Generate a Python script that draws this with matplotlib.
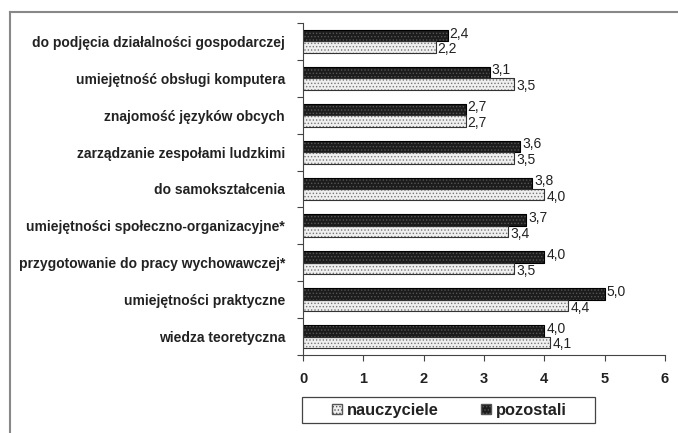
import matplotlib
matplotlib.use("Agg")
import matplotlib.pyplot as plt
import numpy as np
from matplotlib.lines import Line2D
from matplotlib.patches import Patch, Rectangle

plt.rcParams['font.family'] = ['Liberation Sans', 'DejaVu Sans']
plt.rcParams['hatch.linewidth'] = 0.6

categories = [
    "do podjęcia działalności gospodarczej",
    "umiejętność obsługi komputera",
    "znajomość języków obcych",
    "zarządzanie zespołami ludzkimi",
    "do samokształcenia",
    "umiejętności społeczno-organizacyjne*",
    "przygotowanie do pracy wychowawczej*",
    "umiejętności praktyczne",
    "wiedza teoretyczna",
]
nauczyciele = [2.2, 3.5, 2.7, 3.5, 4.0, 3.4, 3.5, 4.4, 4.1]
pozostali = [2.4, 3.1, 2.7, 3.6, 3.8, 3.7, 4.0, 5.0, 4.0]
xticks = [0, 1, 2, 3, 4, 5, 6]
series_names = ["nauczyciele", "pozostali"]

fig = plt.figure(figsize=(6.78, 4.33), dpi=100)
ax = fig.add_axes([303/678, 1-355/433, (665-303)/678, (355-23)/433])

n = len(categories)
y = np.arange(n)
h = 0.31
dark_col = '#1c1c1c'
light_col = '#efefef'

ax.barh(y - h/2, pozostali, height=h, color=dark_col, edgecolor='#555555',
        hatch='.....', linewidth=0.6)
ax.barh(y + h/2, nauczyciele, height=h, color=light_col, edgecolor='#777777',
        hatch='.....', linewidth=0.6)
for yy, v in zip(y, pozostali):
    ax.add_patch(Rectangle((0, yy - h), v, h, fill=False, edgecolor='black', linewidth=0.8))
for yy, v in zip(y, nauczyciele):
    ax.add_patch(Rectangle((0, yy), v, h, fill=False, edgecolor='#333333', linewidth=0.8))

for yy, v in zip(y, pozostali):
    ax.text(v + 0.03, yy - h/2 - 0.06, f"{v:.1f}".replace('.', ','), va='center', ha='left',
            fontsize=10, color='#222222')
for yy, v in zip(y, nauczyciele):
    ax.text(v + 0.03, yy + h/2 + 0.06, f"{v:.1f}".replace('.', ','), va='center', ha='left',
            fontsize=10, color='#222222')

ax.set_xlim(0, 6)
ax.set_ylim(n - 0.5, -0.5)
ax.set_xticks(xticks)
ax.set_xticklabels([str(t) for t in xticks], fontsize=10.5, fontweight='bold', color='#222222')
ax.set_yticks(np.arange(n + 1) - 0.5)
ax.set_yticklabels([])
ax.set_yticks(y, minor=True)
ax.set_yticklabels(categories, minor=True, fontsize=10.0, fontweight='bold', color='#222222')
ax.tick_params(axis='y', which='minor', length=0, pad=13)
ax.tick_params(axis='y', which='major', length=4, direction='out', color='#444444')
ax.tick_params(axis='x', length=4, direction='out', color='#444444', pad=8)
for s in ['top', 'right']:
    ax.spines[s].set_visible(False)
ax.spines['left'].set_color('#444444')
ax.spines['bottom'].set_color('#444444')

# legend box
fig.add_artist(Rectangle((302/678, 1-423/433), (595-302)/678, 26/433, transform=fig.transFigure,
                         fill=False, edgecolor='#444444', linewidth=0.9))
handles = [Patch(facecolor=light_col, edgecolor='#555555', hatch='.....', label=series_names[0]),
           Patch(facecolor=dark_col, edgecolor='#555555', hatch='.....', label=series_names[1])]
leg = fig.legend(handles=handles, loc='center left', bbox_to_anchor=(324/678, 1-410/433),
                 ncol=2, fontsize=11.8, frameon=False,
                 handlelength=0.6, handleheight=0.6, handletextpad=0.3, borderpad=0.0,
                 columnspacing=2.6)
for t in leg.get_texts():
    t.set_fontweight('bold')
    t.set_color('#222222')

fig.add_artist(Line2D([10/678, 10/678], [0, 1-12/433], transform=fig.transFigure, color='#888888', lw=1.5))
fig.add_artist(Line2D([10/678, 1], [1-12/433, 1-12/433], transform=fig.transFigure, color='#888888', lw=1.5))

fig.savefig("out.png", dpi=100)
